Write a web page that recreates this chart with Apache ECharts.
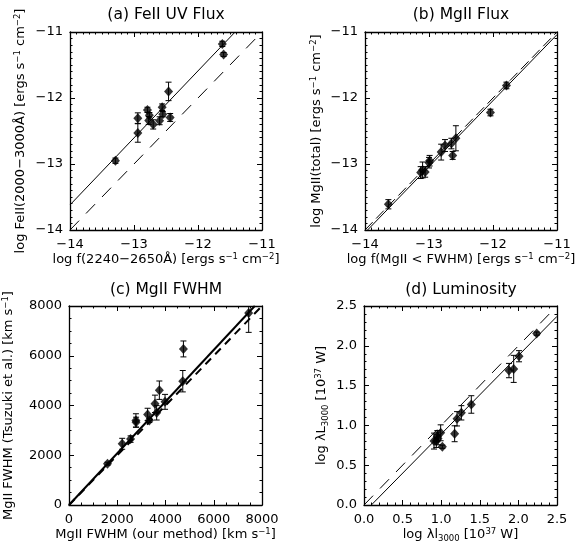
<!DOCTYPE html>
<html>
<head>
<meta charset="utf-8">
<script src="https://cdn.jsdelivr.net/npm/echarts@6/dist/echarts.min.js"></script>
<style>html,body{margin:0;padding:0;background:#fff}#c{width:579px;height:546px}</style>
</head>
<body>
<div id="c"></div>
<script>
// ---- Panel (a) FeII UV flux ----
const aX   = [-11.62,-11.60,-12.46,-12.435,-12.56,-12.55,-12.60,-12.70,-12.79,-12.76,-12.77,-12.94,-12.94,-13.29];
const aY   = [-11.18,-11.34,-11.90,-12.295,-12.14,-12.245,-12.345,-12.40,-12.18,-12.26,-12.34,-12.305,-12.53,-12.95];
const aErr = [0.04,0.03,0.14,0.06,0.05,0.04,0.06,0.07,0.04,0.04,0.06,0.08,0.14,0.04];
const aFitX = [-14, -11.42];
const aFitY = [-13.62, -11];
const aOneX = [-14, -11];
const aOneY = [-14, -11];
const abTicks = [-14, -13, -12, -11];

// ---- Panel (b) MgII flux ----
const bX   = [-13.635,-13.13,-13.10,-13.06,-13.00,-12.99,-12.81,-12.75,-12.65,-12.63,-12.58,-12.04,-11.79];
const bY   = [-13.61,-13.13,-13.09,-13.12,-12.98,-12.95,-12.82,-12.72,-12.69,-12.87,-12.61,-12.22,-11.81];
const bErr = [0.07,0.09,0.12,0.08,0.08,0.08,0.12,0.09,0.08,0.06,0.19,0.05,0.05];
const bFitX = [-13.96, -11];
const bFitY = [-14, -11.04];
const bOneX = [-14, -11];
const bOneY = [-14, -11];

// ---- Panel (c) MgII FWHM ----
const cX   = [1595,2205,2552,2774,2780,3259,3329,3564,3634,3745,3981,4716,4743,7448];
const cY   = [1659,2461,2649,3398,3330,3639,3398,4067,3706,4615,4147,4977,6274,7720];
const cErr = [60,220,130,270,200,250,80,350,290,370,300,430,320,780];
const cFitX = [0, 7700];
const cFitY = [0, 8000];
const cOneX = [0, 8000];
const cOneY = [0, 8000];
const cTicks = [0, 2000, 4000, 6000, 8000];

// ---- Panel (d) Luminosity ----
const dX   = [2.237,2.008,1.939,1.878,1.390,1.261,1.205,1.174,1.015,0.993,0.959,0.937,0.907,0.950];
const dY   = [2.153,1.869,1.710,1.689,1.263,1.158,1.083,0.895,0.732,0.907,0.836,0.803,0.803,0.865];
const dErr = [0.02,0.07,0.17,0.09,0.11,0.09,0.09,0.10,0.02,0.10,0.08,0.08,0.10,0.07];
const dFitX = [0.095, 2.5];
const dFitY = [0, 2.37];
const dOneX = [0, 2.5];
const dOneY = [0, 2.5];
const dTicks = [0.0, 0.5, 1.0, 1.5, 2.0, 2.5];

const titles = ['(a) FeII UV Flux', '(b) MgII Flux', '(c) MgII FWHM', '(d) Luminosity'];
const xNames = [
  'log f(2240\u22122650\u00c5) [ergs s{sup|\u22121} cm{sup|\u22122}]',
  'log f(MgII < FWHM) [ergs s{sup|\u22121} cm{sup|\u22122}]',
  'MgII FWHM (our method) [km s{sup|\u22121}]',
  'log \u03bbl{sub|3000} [10{sup|37} W]'
];
const yNames = [
  'log FeII(2000\u22123000\u00c5) [ergs s{sup|\u22121} cm{sup|\u22122}]',
  'log MgII(total) [ergs s{sup|\u22121} cm{sup|\u22122}]',
  'MgII FWHM (Tsuzuki et al.) [km s{sup|\u22121}]',
  'log \u03bbL{sub|3000} [10{sup|37} W]'
];

const FONT = 'DejaVu Sans';
const grids = [
  {left: 70, top: 32, width: 192, height: 198},
  {left: 365, top: 32, width: 192, height: 198},
  {left: 69, top: 306, width: 193, height: 199},
  {left: 364, top: 306, width: 193, height: 199}
];
const ranges = [
  {min: abTicks[0], max: abTicks[abTicks.length-1], interval: 1, minor: 10, fmt: v => String(v).replace('-', '\u2212')},
  {min: abTicks[0], max: abTicks[abTicks.length-1], interval: 1, minor: 10, fmt: v => String(v).replace('-', '\u2212')},
  {min: cTicks[0], max: cTicks[cTicks.length-1], interval: 2000, minor: 4, fmt: v => String(v)},
  {min: dTicks[0], max: dTicks[dTicks.length-1], interval: 0.5, minor: 5, fmt: v => v.toFixed(1)}
];
const yNameGap = [41, 40, 52, 34];

const rich = {
  sup: {fontSize: 8.5, lineHeight: 8, verticalAlign: 'top', fontFamily: FONT, color: '#000'},
  sub: {fontSize: 8.5, lineHeight: 8, verticalAlign: 'bottom', fontFamily: FONT, color: '#000'}
};

function axisCommon(r, i) {
  return {
    type: 'value', gridIndex: i, min: r.min, max: r.max, interval: r.interval,
    axisLine: {show: true, onZero: false, lineStyle: {color: '#000', width: 1.3}},
    axisTick: {show: true, inside: true, length: 5, lineStyle: {color: '#000', width: 1}},
    minorTick: {show: true, splitNumber: r.minor, length: 2.5, lineStyle: {color: '#000', width: 1}},
    splitLine: {show: false}, minorSplitLine: {show: false}
  };
}

const xAxis = [], yAxis = [];
grids.forEach((g, i) => {
  const r = ranges[i];
  xAxis.push(Object.assign(axisCommon(r, i), {
    position: 'bottom', name: xNames[i], nameLocation: 'middle', nameGap: 21,
    nameTextStyle: {fontFamily: FONT, fontSize: 13, color: '#000', lineHeight: 16, rich: rich},
    axisLabel: {show: true, margin: 8, fontFamily: FONT, fontSize: 13, color: '#000', formatter: r.fmt}
  }));
  xAxis.push(Object.assign(axisCommon(r, i), {position: 'top', axisLabel: {show: false}}));
  yAxis.push(Object.assign(axisCommon(r, i), {
    position: 'left', name: yNames[i], nameLocation: 'middle', nameGap: yNameGap[i], nameRotate: 90,
    nameTextStyle: {fontFamily: FONT, fontSize: 13, color: '#000', lineHeight: 16, rich: rich},
    axisLabel: {show: true, margin: 7, fontFamily: FONT, fontSize: 13, color: '#000', formatter: r.fmt}
  }));
  yAxis.push(Object.assign(axisCommon(r, i), {position: 'right', axisLabel: {show: false}}));
});

function zip(xs, ys) { return xs.map((x, k) => [x, ys[k]]); }
function zip3(xs, ys, es) { return xs.map((x, k) => [x, ys[k], es[k]]); }

function errRender(params, api) {
  const cs = params.coordSys;
  const x = api.value(0), y = api.value(1), e = api.value(2);
  const t = api.coord([x, y + e]);
  const b = api.coord([x, y - e]);
  const top = Math.max(t[1], cs.y), bot = Math.min(b[1], cs.y + cs.height);
  const hw = 3;
  const st = {stroke: '#000', lineWidth: 1};
  const ch = [{type: 'line', shape: {x1: t[0], y1: top, x2: t[0], y2: bot}, style: st}];
  if (t[1] >= cs.y) ch.push({type: 'line', shape: {x1: t[0]-hw, y1: t[1], x2: t[0]+hw, y2: t[1]}, style: st});
  if (b[1] <= cs.y + cs.height) ch.push({type: 'line', shape: {x1: b[0]-hw, y1: b[1], x2: b[0]+hw, y2: b[1]}, style: st});
  return {type: 'group', children: ch};
}

const panels = [
  {X: aX, Y: aY, E: aErr, fx: aFitX, fy: aFitY, ox: aOneX, oy: aOneY, lw: 1, dash: [13, 10]},
  {X: bX, Y: bY, E: bErr, fx: bFitX, fy: bFitY, ox: bOneX, oy: bOneY, lw: 1, dash: [11, 5]},
  {X: cX, Y: cY, E: cErr, fx: cFitX, fy: cFitY, ox: cOneX, oy: cOneY, lw: 2, dash: [8, 6]},
  {X: dX, Y: dY, E: dErr, fx: dFitX, fy: dFitY, ox: dOneX, oy: dOneY, lw: 1, dash: [13, 10]}
];

const series = [];
panels.forEach((p, i) => {
  const xi = 2*i, yi = 2*i;
  series.push({type: 'line', xAxisIndex: xi, yAxisIndex: yi, data: zip(p.ox, p.oy), showSymbol: false, silent: true,
    lineStyle: {color: '#000', width: p.lw, type: p.dash}, z: 2});
  series.push({type: 'line', xAxisIndex: xi, yAxisIndex: yi, data: zip(p.fx, p.fy), showSymbol: false, silent: true,
    lineStyle: {color: '#000', width: p.lw}, z: 2});
  series.push({type: 'custom', xAxisIndex: xi, yAxisIndex: yi, data: zip3(p.X, p.Y, p.E), renderItem: errRender, silent: true, z: 3});
  series.push({type: 'scatter', xAxisIndex: xi, yAxisIndex: yi, data: zip(p.X, p.Y), symbol: 'diamond', symbolSize: [9, 10],
    itemStyle: {color: '#000'}, silent: true, z: 4});
});

const titlePos = [[166, 15], [461, 15], [166, 290], [461, 290]];
const graphic = titles.map((t, i) => ({
  type: 'text', x: titlePos[i][0], y: titlePos[i][1],
  style: {text: t, fontFamily: FONT, fontSize: 15.5, fill: '#000', textAlign: 'center', textVerticalAlign: 'middle'}
}));

const chart = echarts.init(document.getElementById('c'), null, {renderer: 'canvas'});
chart.setOption({
  animation: false,
  backgroundColor: '#fff',
  grid: grids.map(g => Object.assign({containLabel: false}, g)),
  xAxis: xAxis, yAxis: yAxis, series: series, graphic: graphic
});
</script>
</body>
</html>
